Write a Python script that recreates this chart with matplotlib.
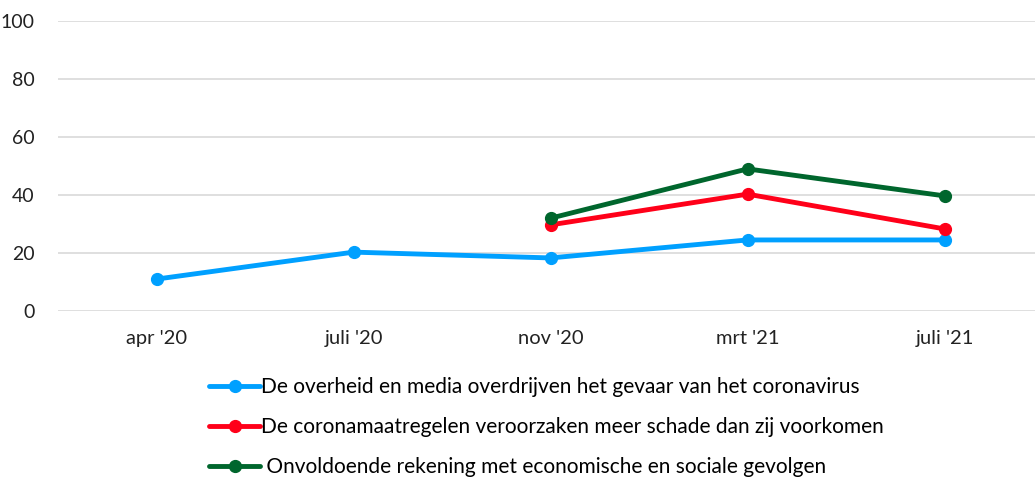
import matplotlib
matplotlib.use("Agg")
import matplotlib.pyplot as plt
import numpy as np

categories = ["apr '20", "juli '20", "nov '20", "mrt '21", "juli '21"]
labels = [
    "De overheid en media overdrijven het gevaar van het coronavirus",
    "De coronamaatregelen veroorzaken meer schade dan zij voorkomen",
    " Onvoldoende rekening met economische en sociale gevolgen",
]
overheid = [11, 20.3, 18.3, 24.5, 24.5]
maatregelen = [None, None, 29.7, 40.3, 28.3]
onvoldoende = [None, None, 32, 49, 39.7]
colors = ["#00A0FF", "#FF0019", "#00662D"]

plt.rcParams['font.family'] = ['Lato', 'DejaVu Sans']

fig = plt.figure(figsize=(10.35, 4.79), dpi=100)
W, H = 1035, 479
ax = fig.add_axes([58 / W, 1 - 311 / H, (1035 - 58) / W, 290 / H])

x = np.arange(len(categories))
handles = []
for vals, c in zip([overheid, maatregelen, onvoldoende], colors):
    xs = [xi for xi, v in zip(x, vals) if v is not None]
    ys = [v for v in vals if v is not None]
    h, = ax.plot(xs, ys, color=c, lw=3.5, marker='o', markersize=8.5, solid_capstyle='round')
    handles.append(h)

ax.set_ylim(0, 100)
ax.set_xlim(-0.5, -0.5 + (1035 - 58) / 197)
ax.set_yticks(range(0, 101, 20))
ax.set_xticks(x)
ax.set_xticklabels(categories)
ax.grid(axis='y', color='#d9d9d9', lw=1.2)
ax.set_axisbelow(True)
for s in ax.spines.values():
    s.set_visible(False)
ax.tick_params(axis='both', length=0, labelsize=14, colors='#222222')
ax.tick_params(axis='y', pad=17)
ax.tick_params(axis='x', labelsize=14.5, pad=14)

fig.legend(handles, labels, loc='upper left', bbox_to_anchor=(209 / W, 1 - 377 / H),
           frameon=False, fontsize=15, handlelength=2.45, handletextpad=0.05,
           labelspacing=0.97, borderpad=0, borderaxespad=0)

fig.savefig("out.png", dpi=100)
